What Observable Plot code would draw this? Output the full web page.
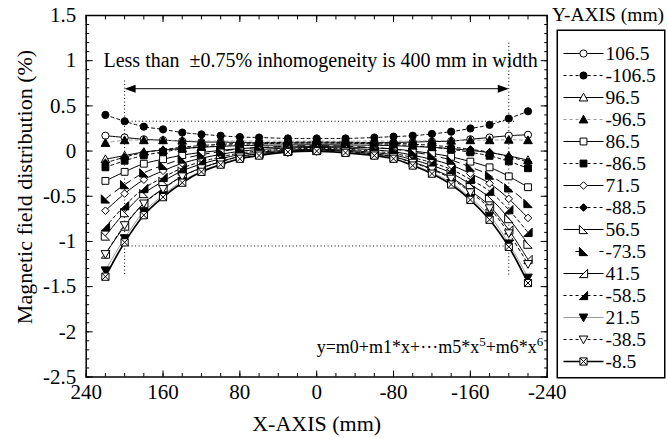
<!DOCTYPE html>
<html><head><meta charset="utf-8">
<script src="https://cdn.jsdelivr.net/npm/d3@7"></script>
<script src="https://cdn.jsdelivr.net/npm/@observablehq/plot@0.6"></script>
<style>
body{margin:0;background:#fff;}
#wrap{position:relative;width:668px;height:438px;font-family:"Liberation Serif","Times New Roman",serif;color:#000;overflow:hidden;}
#wrap svg, #wrap svg text, #wrap svg tspan{font-family:"Liberation Serif","Times New Roman",serif !important;}
#main{position:absolute;left:0;top:0;}
#legend{position:absolute;left:556px;top:29px;}
#ltitle{position:absolute;left:552px;top:3px;font-size:19.5px;white-space:nowrap;line-height:24px;}
#ylabel{position:absolute;left:25px;top:186.5px;font-size:22px;white-space:nowrap;transform:translate(-50%,-50%) rotate(-90deg);line-height:24px;}
</style></head><body>
<div id="wrap"><div id="main"></div><div id="legend"></div><div id="ltitle">Y-AXIS (mm)</div><div id="ylabel">Magnetic field distribution (%)</div></div>
<script>
// ---------- data ----------
const xPos = [220,200,180,160,140,120,100,80,60,30,0,-30,-60,-80,-100,-120,-140,-160,-180,-200,-220];
const seriesNames = ["106.5","-106.5","96.5","-96.5","86.5","-86.5","71.5","-88.5","56.5","-73.5","41.5","-58.5","21.5","-38.5","-8.5"];
const v106_5 = [0.17,0.15,0.13,0.12,0.11,0.10,0.10,0.095,0.09,0.09,0.09,0.09,0.09,0.095,0.10,0.105,0.11,0.13,0.15,0.17,0.18];
const vm106_5 = [0.40,0.33,0.27,0.24,0.205,0.185,0.17,0.155,0.15,0.14,0.14,0.14,0.15,0.16,0.17,0.19,0.215,0.25,0.29,0.36,0.44];
const v96_5 = [-0.09,-0.05,-0.01,0.01,0.03,0.043,0.052,0.06,0.064,0.068,0.07,0.068,0.064,0.06,0.051,0.041,0.028,0.007,-0.017,-0.054,-0.10];
const vm96_5 = [0.09,0.12,0.12,0.12,0.115,0.11,0.11,0.11,0.11,0.11,0.11,0.11,0.11,0.11,0.11,0.115,0.115,0.12,0.12,0.125,0.12];
const v86_5 = [-0.33,-0.23,-0.14,-0.09,-0.045,-0.015,0.008,0.027,0.037,0.046,0.05,0.045,0.034,0.023,0.0,-0.027,-0.063,-0.117,-0.18,-0.28,-0.40];
const vm86_5 = [-0.18,-0.107,-0.048,-0.01,0.023,0.044,0.06,0.074,0.08,0.087,0.09,0.087,0.08,0.073,0.059,0.042,0.02,-0.014,-0.053,-0.114,-0.19];
const v71_5 = [-0.66,-0.471,-0.317,-0.219,-0.135,-0.079,-0.037,-0.002,0.016,0.033,0.04,0.032,0.013,-0.007,-0.046,-0.093,-0.155,-0.249,-0.358,-0.529,-0.74];
const vm88_5 = [-0.13,-0.068,-0.017,0.015,0.043,0.061,0.075,0.086,0.092,0.098,0.10,0.098,0.092,0.087,0.076,0.063,0.045,0.019,-0.012,-0.061,-0.12];
const v56_5 = [-0.94,-0.681,-0.470,-0.335,-0.22,-0.143,-0.086,-0.038,-0.014,0.01,0.02,0.01,-0.017,-0.043,-0.096,-0.159,-0.243,-0.369,-0.516,-0.747,-1.03];
const vm73_5 = [-0.53,-0.371,-0.241,-0.158,-0.088,-0.04,-0.005,0.025,0.039,0.054,0.06,0.054,0.038,0.022,-0.01,-0.049,-0.10,-0.177,-0.266,-0.407,-0.58];
const v41_5 = [-1.14,-0.83,-0.577,-0.416,-0.278,-0.186,-0.117,-0.059,-0.03,-0.002,0.01,-0.002,-0.032,-0.063,-0.123,-0.196,-0.293,-0.438,-0.607,-0.873,-1.20];
const vm58_5 = [-0.84,-0.605,-0.414,-0.292,-0.188,-0.118,-0.066,-0.022,0.0,0.021,0.03,0.021,-0.003,-0.026,-0.072,-0.128,-0.203,-0.314,-0.444,-0.649,-0.90];
const v21_5 = [-1.32,-0.964,-0.673,-0.488,-0.33,-0.224,-0.145,-0.079,-0.046,-0.013,0,-0.014,-0.049,-0.084,-0.154,-0.238,-0.35,-0.518,-0.714,-1.022,-1.40];
const vm38_5 = [-1.14,-0.82,-0.58,-0.42,-0.28,-0.19,-0.12,-0.06,-0.03,0.0,0.01,-0.003,-0.034,-0.066,-0.129,-0.204,-0.305,-0.456,-0.633,-0.91,-1.25];
const vm8_5 = [-1.39,-1.01,-0.71,-0.51,-0.35,-0.23,-0.15,-0.085,-0.05,-0.01,0.0,-0.02,-0.05,-0.085,-0.16,-0.25,-0.37,-0.54,-0.76,-1.06,-1.46];
const seriesValues = [v106_5,vm106_5,v96_5,vm96_5,v86_5,vm86_5,v71_5,vm88_5,v56_5,vm73_5,v41_5,vm58_5,v21_5,vm38_5,vm8_5];

// tick labels / axes
const xMajor = [240,160,80,0,-80,-160,-240];
const yMajor = [1.5,1,0.5,0,-0.5,-1,-1.5,-2,-2.5];

// annotations
const annText = "Less than \u00A0\u00B10.75% inhomogeneity is 400 mm in width";
const annX = [222], annY = [1.0];
const guideX = [200, -200];
const guideTop = [0.78, 1.2], guideBottom = [-1.38, -1.38];
const bandY = [0.33, -1.05];
const bandEnd = [-208, -200];
const arrowY = [0.69];
const formulaPos = [0, -2.17];

// ---------- styles ----------
const rad = s => Math.sqrt(s / Math.PI);
const symTriLeft = {draw(c, s) {const r = rad(s) * 1.15; c.moveTo(-r, -r); c.lineTo(-r, r); c.lineTo(r, r); c.closePath();}};
const symTriRight = {draw(c, s) {const r = rad(s) * 1.15; c.moveTo(r, -r); c.lineTo(r, r); c.lineTo(-r, r); c.closePath();}};
const symTriUp = {draw(c, s) {const r = rad(s) * 1.2; c.moveTo(0, -r); c.lineTo(r, r * 0.8); c.lineTo(-r, r * 0.8); c.closePath();}};
const symTriDown = {draw(c, s) {const r = rad(s) * 1.2; c.moveTo(-r, -r * 0.8); c.lineTo(r, -r * 0.8); c.lineTo(0, r); c.closePath();}};
const symSquare = {draw(c, s) {const r = rad(s) * 0.95; c.rect(-r, -r, 2 * r, 2 * r);}};
const symDiamond = {draw(c, s) {const r = rad(s) * 1.05; c.moveTo(0, -r); c.lineTo(r, 0); c.lineTo(0, r); c.lineTo(-r, 0); c.closePath();}};
const symBoxX = {draw(c, s) {const r = rad(s) * 1.0; c.moveTo(-r, -r); c.lineTo(r, -r); c.lineTo(r, r); c.lineTo(-r, r); c.closePath(); c.moveTo(-r, -r); c.lineTo(r, r); c.moveTo(r, -r); c.lineTo(-r, r);}};
const headRight = {draw(c, s) {c.moveTo(0, 0); c.lineTo(-11, -4); c.lineTo(-11, 4); c.closePath();}};
const headLeft = {draw(c, s) {c.moveTo(0, 0); c.lineTo(11, -4); c.lineTo(11, 4); c.closePath();}};

const GRAY = "#9a9a9a";
const styles = [
  {sym: "circle", fill: "white", stroke: "black", dash: null},
  {sym: "circle", fill: "black", stroke: "black", dash: "3,3"},
  {sym: symTriUp, fill: "white", stroke: "black", dash: null},
  {sym: symTriUp, fill: "black", stroke: GRAY, dash: "3,3", mstroke: "black"},
  {sym: symSquare, fill: "white", stroke: "black", dash: null},
  {sym: symSquare, fill: "black", stroke: "black", dash: "3,3"},
  {sym: symDiamond, fill: "white", stroke: "black", dash: null},
  {sym: symDiamond, fill: "black", stroke: "black", dash: "3,3"},
  {sym: symTriLeft, fill: "white", stroke: "black", dash: null},
  {sym: symTriLeft, fill: "black", stroke: "black", dash: "7,5", ldash: "0,12,7,5"},
  {sym: symTriRight, fill: "white", stroke: "black", dash: null},
  {sym: symTriRight, fill: "black", stroke: "black", dash: "3,3"},
  {sym: symTriDown, fill: "black", stroke: GRAY, dash: null, mstroke: "black"},
  {sym: symTriDown, fill: "white", stroke: "black", dash: "3,3"},
  {sym: symBoxX, fill: "white", stroke: "black", dash: null, width: 1.7}
];

// ---------- main chart ----------
const marks = [];
marks.push(Plot.link(guideX.map((x, i) => ({x, t: guideTop[i], b: guideBottom[i]})), {x1: "x", x2: "x", y1: "t", y2: "b", stroke: "black", strokeWidth: 1, strokeDasharray: "1,2.5"}));
marks.push(Plot.link(bandY.map((y, i) => ({y, e: bandEnd[i]})), {x1: guideX[0], x2: "e", y1: "y", y2: "y", stroke: "black", strokeWidth: 1, strokeDasharray: "1,2.5"}));
marks.push(Plot.ruleY(arrowY, {x1: guideX[0] - 4, x2: guideX[1] + 4, stroke: "black", strokeWidth: 1}));
marks.push(Plot.dot(arrowY, {x: guideX[0], y: d => d, symbol: headLeft, fill: "black", stroke: null, r: 4}));
marks.push(Plot.dot(arrowY, {x: guideX[1], y: d => d, symbol: headRight, fill: "black", stroke: null, r: 4}));

seriesNames.forEach((name, k) => {
  const st = styles[k];
  const data = xPos.map((x, i) => ({x, y: seriesValues[k][i]}));
  marks.push(Plot.line(data, {x: "x", y: "y", stroke: st.stroke, strokeWidth: st.width || 1, strokeDasharray: st.dash, curve: "catmull-rom"}));
});
seriesNames.forEach((name, k) => {
  const st = styles[k];
  const data = xPos.map((x, i) => ({x, y: seriesValues[k][i]}));
  marks.push(Plot.dot(data, {x: "x", y: "y", symbol: st.sym, r: 3.6, fill: st.fill, stroke: st.mstroke || st.stroke, strokeWidth: 1}));
});

marks.push(Plot.frame({stroke: "black", strokeWidth: 1.5}));
const xMinor = d3.range(-240, 241, 20);
const yMinor = d3.range(-25, 16, 1).map(d => d / 10);
marks.push(Plot.axisX({anchor: "bottom", ticks: xMajor, tickSize: 0, tickPadding: 7, tickFormat: d => String(d), fontSize: 21, label: null}));
marks.push(Plot.axisX({anchor: "bottom", ticks: xMajor, tickSize: 6, dy: -6, fill: "none", label: null}));
marks.push(Plot.axisX({anchor: "bottom", ticks: xMinor, tickSize: 3.5, dy: -3.5, fill: "none", label: null}));
marks.push(Plot.axisX({anchor: "top", ticks: xMajor, tickSize: 6, dy: 6, fill: "none", label: null}));
marks.push(Plot.axisX({anchor: "top", ticks: xMinor, tickSize: 3.5, dy: 3.5, fill: "none", label: null}));
marks.push(Plot.axisY({anchor: "left", ticks: yMajor, tickSize: 0, tickPadding: 10, tickFormat: d => String(d), fontSize: 21, label: null}));
marks.push(Plot.axisY({anchor: "left", ticks: yMajor, tickSize: 7, dx: 7, fill: "none", label: null}));
marks.push(Plot.axisY({anchor: "left", ticks: yMinor, tickSize: 3.5, dx: 3.5, fill: "none", label: null}));
marks.push(Plot.axisY({anchor: "right", ticks: yMajor, tickSize: 7, dx: -7, fill: "none", label: null}));
marks.push(Plot.axisY({anchor: "right", ticks: yMinor, tickSize: 3.5, dx: -3.5, fill: "none", label: null}));

marks.push(Plot.text(["X-AXIS (mm)"], {frameAnchor: "bottom", dy: 47, fontSize: 22, lineAnchor: "middle", fill: "black"}));
marks.push(Plot.text([annText], {x: annX[0], y: annY[0], textAnchor: "start", lineAnchor: "middle", fontSize: 20, fill: "black"}));
const formula = "y=m0+m1*x+\u00B7\u00B7\u00B7m5*x5+m6*x6";
marks.push(Plot.text([formula], {x: formulaPos[0], y: formulaPos[1], textAnchor: "start", lineAnchor: "middle", fontSize: 18, fill: "black"}));

const chart = Plot.plot({
  width: 668, height: 438,
  marginLeft: 85.7, marginRight: 121.3, marginTop: 15, marginBottom: 61.5,
  x: {domain: [240, -240]},
  y: {domain: [-2.5, 1.5]},
  style: {fontSize: "21px", color: "black", background: "white", overflow: "visible"},
  marks
});
document.getElementById("main").appendChild(chart);

d3.select(chart).selectAll("text").filter(function () { return this.textContent === formula; }).each(function () {
  const t = d3.select(this);
  t.text(null);
  t.append("tspan").text("y=m0+m1*x+\u00B7\u00B7\u00B7m5*x");
  t.append("tspan").attr("dy", "-7").attr("font-size", "13").text("5");
  t.append("tspan").attr("dy", "7").text("+m6*x");
  t.append("tspan").attr("dy", "-7").attr("font-size", "13").text("6");
});

// ---------- legend ----------
const lmarks = [Plot.frame({stroke: "black", strokeWidth: 1.5, inset: 0.75})];
seriesNames.forEach((name, k) => {
  const st = styles[k];
  lmarks.push(Plot.link([name], {x1: 7, x2: 47, y1: d => d, y2: d => d, stroke: st.stroke, strokeWidth: st.width || 1, strokeDasharray: st.ldash || st.dash}));
  lmarks.push(Plot.dot([name], {x: 27, y: d => d, symbol: st.sym, r: 3.6, fill: st.fill, stroke: st.mstroke || st.stroke, strokeWidth: 1}));
  lmarks.push(Plot.text([name], {x: 49, y: d => d, text: d => d, textAnchor: "start", lineAnchor: "middle", fontSize: 19.5, fill: "black"}));
});
const legend = Plot.plot({
  width: 109, height: 349, margin: 0,
  x: {domain: [0, 109], range: [0, 109], axis: null},
  y: {type: "point", domain: seriesNames, range: [21, 334.6], padding: 0, axis: null},
  style: {background: "white", color: "black", overflow: "visible"},
  marks: lmarks
});
document.getElementById("legend").appendChild(legend);
</script>
</body></html>
